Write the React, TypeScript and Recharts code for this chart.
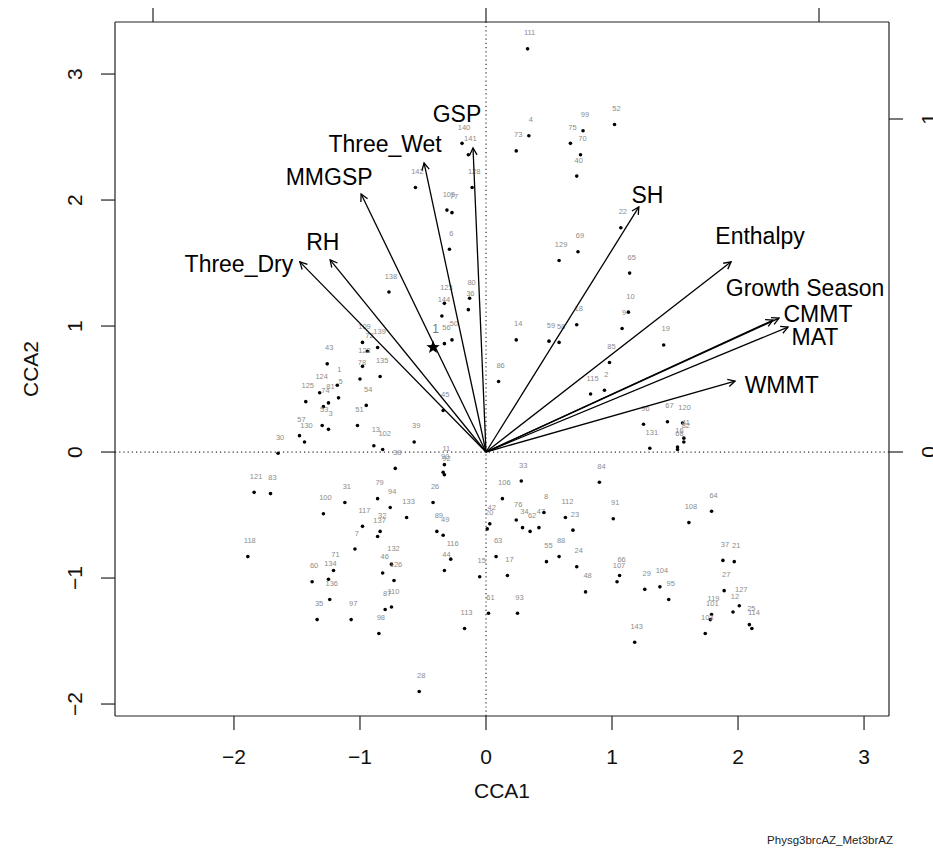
import React from 'react';
import { ScatterChart, Scatter, XAxis, YAxis, ReferenceLine } from 'recharts';

// site scores: [row label, CCA1, CCA2]
const sites: [string, number, number][] = [
  ['111', 0.33, 3.2], ['52', 1.02, 2.6], ['4', 0.34, 2.51], ['73', 0.24, 2.39],
  ['75', 0.67, 2.45], ['99', 0.77, 2.55], ['70', 0.75, 2.36], ['40', 0.72, 2.19],
  ['140', -0.19, 2.45], ['141', -0.14, 2.36], ['128', -0.11, 2.1], ['142', -0.56, 2.1],
  ['105', -0.31, 1.92], ['77', -0.27, 1.9], ['6', -0.29, 1.61], ['22', 1.07, 1.78],
  ['69', 0.73, 1.59], ['129', 0.58, 1.52], ['65', 1.14, 1.42], ['10', 1.13, 1.11],
  ['9', 1.08, 0.98], ['19', 1.41, 0.85], ['85', 0.98, 0.71], ['115', 0.83, 0.46],
  ['2', 0.94, 0.49], ['96', 1.25, 0.22], ['67', 1.44, 0.24], ['120', 1.56, 0.23],
  ['41', 1.57, 0.11], ['82', 1.57, 0.08], ['131', 1.3, 0.03], ['16', 1.52, 0.04],
  ['68', 1.52, 0.02], ['18', 0.72, 1.01], ['14', 0.24, 0.89], ['59', 0.5, 0.88],
  ['58', 0.58, 0.87], ['86', 0.1, 0.56], ['45', -0.34, 0.33], ['39', -0.57, 0.08],
  ['80', -0.13, 1.22], ['36', -0.14, 1.13], ['123', -0.33, 1.18], ['144', -0.35, 1.08],
  ['56', -0.33, 0.86], ['50', -0.27, 0.89], ['138', -0.77, 1.27], ['109', -0.98, 0.87],
  ['139', -0.86, 0.83], ['72', -0.94, 0.8], ['122', -0.98, 0.68], ['78', -1.0, 0.58],
  ['135', -0.84, 0.6], ['43', -1.26, 0.7], ['1', -1.18, 0.53], ['124', -1.32, 0.47],
  ['125', -1.43, 0.4], ['81', -1.25, 0.39], ['5', -1.17, 0.43], ['74', -1.29, 0.36],
  ['53', -1.3, 0.21], ['3', -1.25, 0.18], ['54', -0.95, 0.37], ['51', -1.02, 0.21],
  ['57', -1.48, 0.13], ['130', -1.44, 0.08], ['30', -1.65, -0.01], ['13', -0.89, 0.05],
  ['102', -0.82, 0.02], ['38', -0.72, -0.13], ['11', -0.33, -0.1], ['90', -0.34, -0.16],
  ['92', -0.33, -0.18], ['26', -0.42, -0.4], ['89', -0.39, -0.63], ['49', -0.34, -0.66],
  ['116', -0.28, -0.85], ['44', -0.33, -0.94], ['113', -0.17, -1.4], ['28', -0.53, -1.9],
  ['33', 0.28, -0.23], ['84', 0.9, -0.24], ['106', 0.13, -0.37], ['42', 0.03, -0.57],
  ['20', 0.01, -0.61], ['76', 0.24, -0.54], ['34', 0.29, -0.6], ['62', 0.35, -0.63],
  ['47', 0.42, -0.6], ['8', 0.46, -0.48], ['112', 0.63, -0.52], ['23', 0.69, -0.62],
  ['91', 1.01, -0.53], ['63', 0.08, -0.83], ['15', -0.05, -0.99], ['17', 0.17, -0.98],
  ['55', 0.48, -0.87], ['88', 0.58, -0.83], ['24', 0.72, -0.91], ['48', 0.79, -1.11],
  ['66', 1.06, -0.98], ['107', 1.04, -1.03], ['61', 0.02, -1.28], ['93', 0.25, -1.28],
  ['143', 1.18, -1.51], ['64', 1.79, -0.47], ['108', 1.61, -0.56], ['37', 1.88, -0.86],
  ['21', 1.97, -0.87], ['27', 1.89, -1.1], ['29', 1.26, -1.09], ['104', 1.38, -1.07],
  ['95', 1.45, -1.17], ['127', 2.01, -1.22], ['12', 1.96, -1.27], ['119', 1.79, -1.29],
  ['101', 1.78, -1.33], ['103', 1.74, -1.44], ['25', 2.09, -1.37], ['114', 2.11, -1.4],
  ['121', -1.84, -0.32], ['83', -1.71, -0.33], ['118', -1.89, -0.83], ['100', -1.29, -0.49],
  ['31', -1.12, -0.4], ['79', -0.86, -0.37], ['94', -0.76, -0.44], ['133', -0.63, -0.52],
  ['117', -0.98, -0.59], ['32', -0.84, -0.63], ['137', -0.86, -0.67], ['7', -1.04, -0.77],
  ['71', -1.21, -0.94], ['134', -1.25, -1.01], ['60', -1.38, -1.03], ['136', -1.24, -1.17],
  ['132', -0.75, -0.89], ['46', -0.82, -0.96], ['126', -0.73, -1.02], ['87', -0.8, -1.25],
  ['110', -0.75, -1.23], ['35', -1.34, -1.33], ['97', -1.07, -1.33], ['98', -0.85, -1.44],
];

// the starred point
const starPoint = { x: -0.42, y: 0.83, id: '1' };

// biplot arrows (top / right axis units)
const envNames = ['Three_Dry', 'RH', 'MMGSP', 'Three_Wet', 'GSP', 'SH', 'Enthalpy', 'Growth Season', 'CMMT', 'MAT', 'WMMT'];
const envX = [-0.559, -0.468, -0.375, -0.186, -0.039, 0.459, 0.736, 0.862, 0.88, 0.907, 0.748];
const envY = [0.571, 0.577, 0.775, 0.868, 0.913, 0.736, 0.571, 0.396, 0.402, 0.375, 0.213];
// where the arrow names sit
const envLabelX = [-0.742, -0.49, -0.471, -0.303, -0.087, 0.485, 0.823, 0.958, 0.997, 0.988, 0.888];
const envLabelY = [0.566, 0.632, 0.827, 0.926, 1.015, 0.772, 0.648, 0.492, 0.416, 0.347, 0.203];

const mainXTicks = [-2, -1, 0, 1, 2, 3];
const mainYTicks = [-2, -1, 0, 1, 2, 3];
const bipXTicks = [-1, 0, 1];
const bipYTicks = [0, 1];

const FONT = '"Liberation Sans", Arial, Helvetica, sans-serif';
const minus = (v: number) => String(v).replace('-', '\u2212');

const siteData = sites.map(([id, x, y]) => ({ id, x, y }));
const labelData = envNames.map((name, i) => ({ name, x: envLabelX[i], y: envLabelY[i] }));

const SiteDot = (props: any) => {
  const { cx, cy, payload } = props;
  return (
    <g>
      <circle cx={cx} cy={cy} r={1.8} fill="#000" />
      <text x={cx + 2} y={cy - 13.5} textAnchor="middle" fontSize={7.5} fill="#8c8c8c" fontFamily={FONT}>
        {payload.id}
      </text>
    </g>
  );
};

const StarDot = (props: any) => {
  const { cx, cy, payload } = props;
  const pts: string[] = [];
  for (let k = 0; k < 10; k++) {
    const r = k % 2 === 0 ? 7 : 2.9;
    const a = -Math.PI / 2 + (k * Math.PI) / 5;
    pts.push(`${cx + r * Math.cos(a)},${cy + r * Math.sin(a)}`);
  }
  return (
    <g>
      <polygon points={pts.join(' ')} fill="#000" />
      <text x={cx + 2.5} y={cy - 14} textAnchor="middle" fontSize={12} fill="#777" fontFamily={FONT}>
        {payload.id}
      </text>
    </g>
  );
};

const ArrowHead = (props: any) => {
  const { cx, cy, payload } = props;
  if (!payload.tip) return <g />;
  const ang = Math.atan2(-payload.y, payload.x);
  const len = 8;
  const spread = Math.PI / 6.5;
  const a1 = `${cx - len * Math.cos(ang - spread)},${cy - len * Math.sin(ang - spread)}`;
  const a2 = `${cx - len * Math.cos(ang + spread)},${cy - len * Math.sin(ang + spread)}`;
  return <polyline points={`${a1} ${cx},${cy} ${a2}`} fill="none" stroke="#000" strokeWidth={1.3} />;
};

const EnvLabel = (props: any) => {
  const { cx, cy, payload } = props;
  return (
    <text x={cx} y={cy + 8.2} textAnchor="middle" fontSize={23} fill="#000" fontFamily={FONT}>
      {payload.name}
    </text>
  );
};

const BottomTick = ({ x, y, payload }: any) => (
  <text x={x} y={y + 32} textAnchor="middle" fontSize={21} fill="#111" fontFamily={FONT}>
    {minus(payload.value)}
  </text>
);

const LeftTick = ({ x, y, payload }: any) => (
  <text x={x - 16.5} y={y} transform={`rotate(-90, ${x - 16.5}, ${y})`} textAnchor="middle" fontSize={21} fill="#111" fontFamily={FONT}>
    {minus(payload.value)}
  </text>
);

const RightTick = ({ x, y, payload }: any) => (
  <text x={x + 31} y={y} transform={`rotate(-90, ${x + 31}, ${y})`} textAnchor="middle" fontSize={21} fill="#111" fontFamily={FONT}>
    {minus(payload.value)}
  </text>
);

const NoTick = () => <g />;

const bottomTitle = (props: any) => {
  const vb = props.viewBox;
  return (
    <g>
      <text x={vb.x + vb.width / 2} y={vb.y + 82} textAnchor="middle" fontSize={21} fill="#111" fontFamily={FONT}>
        CCA1
      </text>
      <text x={vb.x + vb.width + 4} y={vb.y + 128} textAnchor="end" fontSize={11.5} fill="#222" fontFamily={FONT}>
        Physg3brcAZ_Met3brAZ
      </text>
    </g>
  );
};

const leftTitle = (props: any) => {
  const vb = props.viewBox;
  const x = vb.x - 17.5;
  const y = vb.y + vb.height / 2;
  return (
    <text x={x} y={y} transform={`rotate(-90, ${x}, ${y})`} textAnchor="middle" fontSize={21} fill="#111" fontFamily={FONT}>
      CCA2
    </text>
  );
};

const axisStroke = { stroke: '#222', strokeWidth: 1.2 };

export default function App() {
  return (
    <div style={{ position: 'absolute', left: 0, top: 0, width: 933, height: 850, background: '#fff' }}>
      <ScatterChart width={933} height={850} margin={{ top: 8, right: 24, bottom: 74, left: 55 }}>
        <XAxis
          xAxisId="main"
          type="number"
          dataKey="x"
          orientation="bottom"
          domain={[-2.944, 3.198]}
          allowDataOverflow
          ticks={mainXTicks}
          height={60}
          tickSize={14}
          axisLine={axisStroke}
          tickLine={axisStroke}
          tick={BottomTick}
          label={bottomTitle}
        />
        <XAxis
          xAxisId="bip"
          type="number"
          dataKey="x"
          orientation="top"
          domain={[-1.1141, 1.2102]}
          allowDataOverflow
          ticks={bipXTicks}
          height={14}
          tickSize={14}
          axisLine={axisStroke}
          tickLine={axisStroke}
          tick={NoTick}
        />
        <YAxis
          yAxisId="main"
          type="number"
          dataKey="y"
          orientation="left"
          domain={[-2.095, 3.413]}
          allowDataOverflow
          ticks={mainYTicks}
          width={60}
          tickSize={14}
          axisLine={axisStroke}
          tickLine={axisStroke}
          tick={LeftTick}
          label={leftTitle}
        />
        <YAxis
          yAxisId="bip"
          type="number"
          dataKey="y"
          orientation="right"
          domain={[-0.7928, 1.2913]}
          allowDataOverflow
          ticks={bipYTicks}
          width={20}
          tickSize={14}
          axisLine={axisStroke}
          tickLine={axisStroke}
          tick={RightTick}
        />
        <ReferenceLine xAxisId="main" yAxisId="main" x={0} stroke="#333" strokeWidth={1.2} strokeDasharray="1.2 3" />
        <ReferenceLine xAxisId="main" yAxisId="main" y={0} stroke="#333" strokeWidth={1.2} strokeDasharray="1.2 3" />
        <Scatter xAxisId="main" yAxisId="main" data={siteData} shape={SiteDot} isAnimationActive={false} />
        <Scatter xAxisId="main" yAxisId="main" data={[starPoint]} shape={StarDot} isAnimationActive={false} />
        {envNames.map((name, i) => (
          <Scatter
            key={name}
            xAxisId="bip"
            yAxisId="bip"
            data={[
              { x: 0, y: 0, tip: false },
              { x: envX[i], y: envY[i], tip: true },
            ]}
            line={{ stroke: '#000', strokeWidth: 1.3 }}
            lineType="joint"
            shape={ArrowHead}
            isAnimationActive={false}
          />
        ))}
        <Scatter xAxisId="bip" yAxisId="bip" data={labelData} shape={EnvLabel} isAnimationActive={false} />
      </ScatterChart>
    </div>
  );
}
